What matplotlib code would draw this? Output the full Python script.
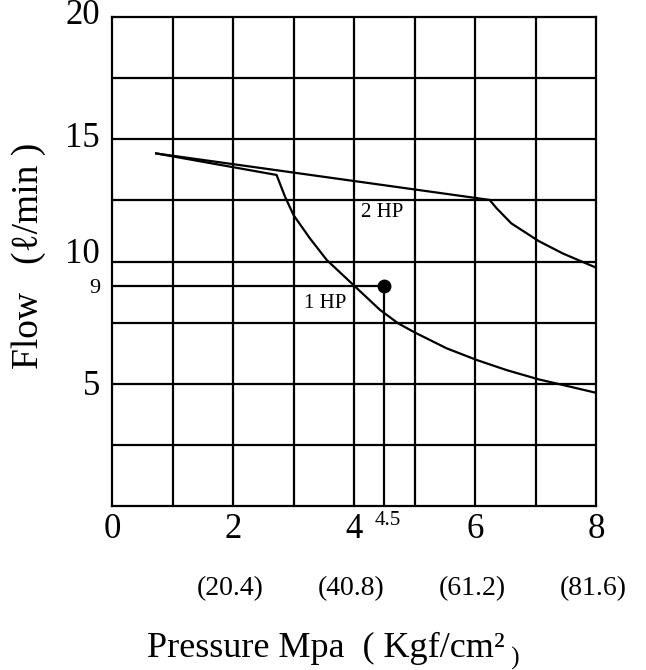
import matplotlib.pyplot as plt

plt.rcParams['font.family'] = ['Liberation Serif', 'DejaVu Serif']

# pressure (MPa) / flow (l/min)
hp1_x = [0.73, 2.72, 2.86, 3.0, 3.27, 3.55, 4.02, 4.43, 4.73, 5.01, 5.53, 6.03, 6.52, 7.05, 7.52, 8.0]
hp1_y = [14.42, 13.54, 12.65, 11.9, 10.95, 10.06, 8.97, 8.02, 7.47, 7.09, 6.45, 5.97, 5.56, 5.18, 4.91, 4.63]
hp2_x = [0.73, 6.24, 6.36, 6.6, 7.05, 7.45, 8.0]
hp2_y = [14.42, 12.52, 12.17, 11.56, 10.84, 10.33, 9.75]

op_x, op_y = 4.5, 9

x_ticks = [0, 2, 4, 6, 8]
kgf_labels = ['(20.4)', '(40.8)', '(61.2)', '(81.6)']
y_ticks = [5, 10, 15, 20]

fig = plt.figure(figsize=(6.46, 6.70), dpi=100)
ax = fig.add_axes([0.1734, 0.2448, 0.7492, 0.7298])
ax.set_xlim(0, 8)
ax.set_ylim(0, 20)

lw = 1.6
for x in range(1, 8):
    ax.axvline(x, color='black', lw=lw)
for i in range(1, 8):
    ax.axhline(i * 2.5, color='black', lw=lw)
for s in ax.spines.values():
    s.set_linewidth(lw)

ax.plot(hp1_x, hp1_y, color='black', lw=1.6)
ax.plot(hp2_x, hp2_y, color='black', lw=1.6)

# operating point with guide lines
ax.plot([0, op_x], [op_y, op_y], color='black', lw=lw)
ax.plot([op_x, op_x], [0, op_y], color='black', lw=lw)
ax.plot(op_x, op_y, 'o', color='black', markersize=9)

ax.text(3.52, 8.28, '1 HP', fontsize=15, ha='center', va='center')
ax.text(4.47, 12.0, '2 HP', fontsize=15, ha='center', va='center')

ax.set_xticks([])
ax.set_yticks([])

for x in x_ticks:
    ax.text(x, -0.95, str(x), fontsize=25, ha='center', va='center')
for x, lab in zip(x_ticks[1:], kgf_labels):
    ax.text(x - 0.05, -3.4, lab, fontsize=20, ha='center', va='center')
ax.text(4.55, -0.6, '4.5', fontsize=15, ha='center', va='center')

for y in y_ticks:
    off = 0.3 if y == 10 else -0.1 if y == 5 else 0.05
    ax.text(-0.2, y + off, str(y), fontsize=25, ha='right', va='center')
ax.text(-0.2, op_y - 0.1, '9', fontsize=16, ha='right', va='center')

t = fig.text(0.505, 0.0195, 'Pressure Mpa  ( Kgf/cm\u00b2', fontsize=26, ha='center', va='baseline')
ax.annotate(' )', xy=(1, 0), xycoords=t, fontsize=18, ha='left', va='baseline')

fig.text(0.045, 0.618, 'Flow   (\u2113/min )', fontsize=27, rotation=90, ha='center', va='center')

fig.savefig('out.png', dpi=100)
